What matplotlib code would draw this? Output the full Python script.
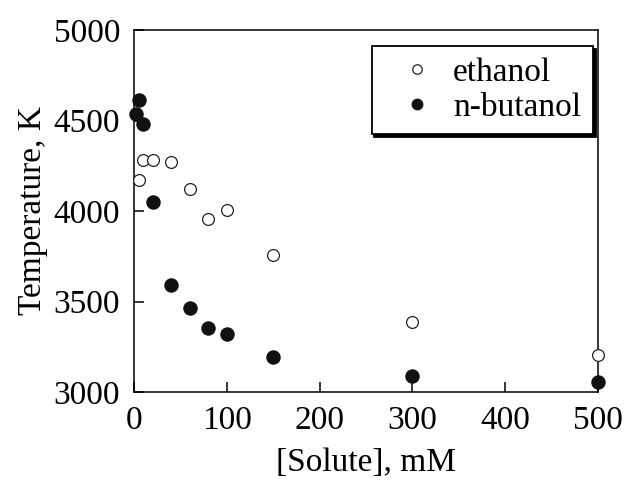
import matplotlib
matplotlib.use("Agg")
import matplotlib.pyplot as plt

# [Solute] in mM and temperature in K
ethanol_x = [5, 10, 20, 40, 60, 80, 100, 150, 300, 500]
ethanol_t = [4172, 4281, 4284, 4271, 4124, 3956, 4004, 3759, 3388, 3205]

butanol_x = [2, 5, 10, 20, 40, 60, 80, 100, 150, 300, 500]
butanol_t = [4536, 4616, 4478, 4050, 3593, 3464, 3356, 3323, 3196, 3087, 3055]

x_ticks = [0, 100, 200, 300, 400, 500]
y_ticks = [3000, 3500, 4000, 4500, 5000]

plt.rcParams["font.family"] = ["Liberation Serif", "DejaVu Serif"]
plt.rcParams["axes.linewidth"] = 1.1

fig = plt.figure(figsize=(6.24, 4.8), dpi=100)
ax = fig.add_axes([0.2147, 0.1833, 0.7436, 0.7542])

ax.plot(ethanol_x, ethanol_t, "o", ms=8.5, mfc="white", mec="#222222",
        mew=0.9, label="ethanol", clip_on=False, zorder=3)
ax.plot(butanol_x, butanol_t, "o", ms=9.5, mfc="#111111", mec="#111111",
        mew=0.9, label="n-butanol", clip_on=False, zorder=4)

ax.set_xlim(0, 500)
ax.set_ylim(3000, 5000)
ax.set_xticks(x_ticks)
ax.set_yticks(y_ticks)
ax.tick_params(direction="in", length=7, width=1.1, labelsize=24,
               top=False, right=False)
ax.tick_params(axis="y", pad=10)
ax.tick_params(axis="x", pad=10)

ax.set_xlabel("[Solute], mM", fontsize=24, labelpad=8)
ax.set_ylabel("Temperature, K", fontsize=24, labelpad=4)

leg = ax.legend(loc="upper right", bbox_to_anchor=(0.989, 0.956),
                borderaxespad=0, fontsize=24, fancybox=False,
                edgecolor="black", framealpha=1, markerscale=0.8,
                handlelength=2.0, handletextpad=0.1, borderpad=0.35,
                labelspacing=0.12,
                shadow={"facecolor": "black", "edgecolor": "black", "alpha": 1})
leg.get_frame().set_linewidth(1.3)

fig.savefig("out.png", dpi=100)
